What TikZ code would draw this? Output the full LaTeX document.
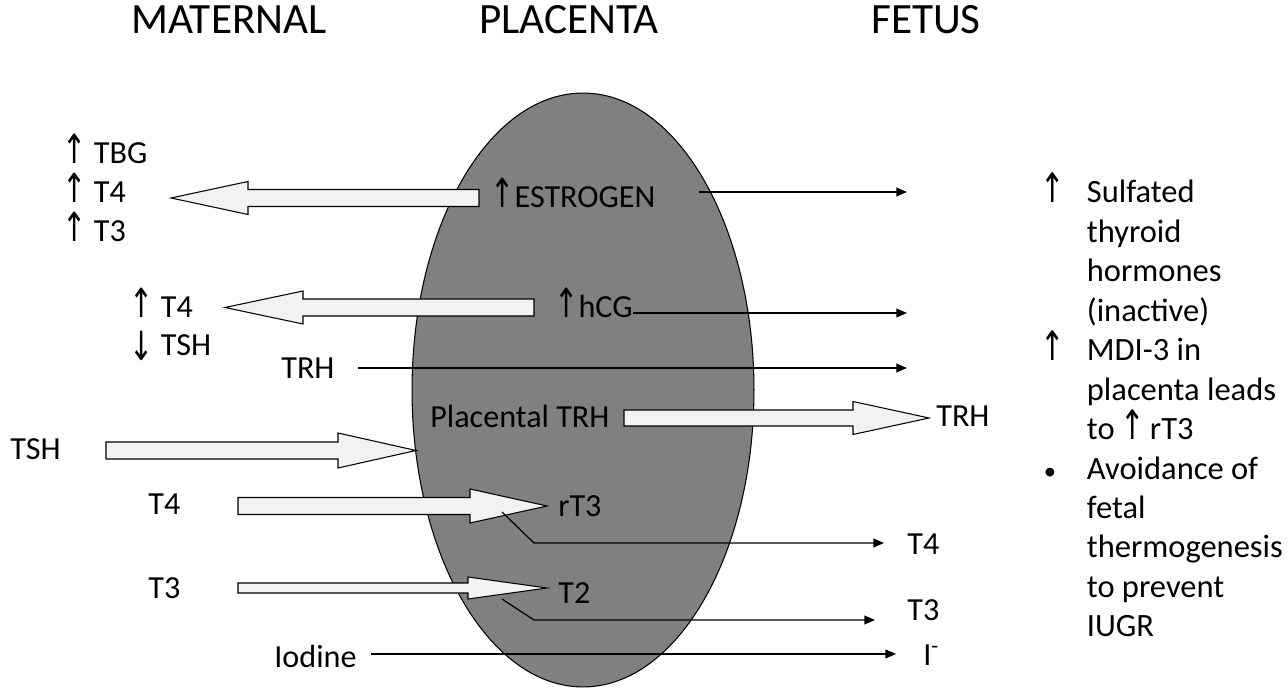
\documentclass[tikz,border=0pt]{standalone}
\usepackage{fontspec}
\usepackage{graphicx}
\setmainfont{Carlito}
\newfontfamily\arrfont{DejaVu Sans}
\usetikzlibrary{arrows.meta,shapes.geometric}
\newcommand\up{\smash{\scalebox{0.9}[1.25]{\arrfont ↑}}}
\newcommand\down{\smash{\raisebox{-0.3ex}{\scalebox{0.9}[1.25]{\arrfont ↓}}}}
% block arrow: tail x, tip x, y, shaft half, head half, head base x
\newcommand\blockarrow[6]{\draw[fat] (#1,#3-#4) -- (#6,#3-#4) -- (#6,#3-#5) -- (#2,#3)
  -- (#6,#3+#5) -- (#6,#3+#4) -- (#1,#3+#4) -- cycle;}
\begin{document}
\begin{tikzpicture}[x=0.02cm, y=-0.02cm,
    head/.style={font=\fontsize{24.6}{28}\selectfont, inner sep=0, anchor=base},
    lbl/.style={font=\fontsize{18.3}{22}\selectfont, inner sep=0, anchor=base west},
    fat/.style={draw=black, line width=0.6pt, fill=black!5},
    thinarr/.style={-{Triangle[length=6pt,width=5pt]}, line width=0.7pt}]
    \useasboundingbox (0,0) rectangle (1288,695);
    % headers
    \node[head] (mat) at (229,34) {MATERNAL};
    \node[head] (pla) at (569,34) {PLACENTA};
    \node[head] (fet) at (926,34) {FETUS};
    % placenta
    \node[ellipse, draw, line width=0.6pt, fill=black!50, inner sep=0,
          minimum width=6.84cm, minimum height=11.88cm] (placenta) at (583,390) {};
    % block arrows
    \blockarrow{479}{171}{198}{8.5}{16.5}{248}
    \blockarrow{534}{225}{307.5}{8.5}{16.5}{303}
    \blockarrow{624}{929}{418}{8}{16.5}{853}
    \blockarrow{106}{416}{450.5}{8.5}{17.5}{338}
    \blockarrow{238}{547}{506}{8.5}{17}{470}
    \blockarrow{238}{547}{588}{5}{11}{468}
    % maternal side
    \node[lbl] (tbg) at (62,164) {\up\ TBG};
    \node[lbl] (mt4a) at (62,203) {\up\ T4};
    \node[lbl] (mt3a) at (62,242) {\up\ T3};
    \node[lbl] (mt4b) at (129,318) {\up\ T4};
    \node[lbl] (mtsh) at (129,356) {\down\ TSH};
    \node[lbl] (trhl) at (281,379) {TRH};
    \node[lbl] (tshl) at (10,460) {TSH};
    \node[lbl] (t4l) at (148,515) {T4};
    \node[lbl] (t3l) at (148,599) {T3};
    \node[lbl] (iod) at (274,667) {Iodine};
    % placenta labels
    \node[lbl] (est) at (490,208) {\up ESTROGEN};
    \node[lbl] (hcg) at (554,318) {\up hCG};
    \node[lbl] (ptrh) at (430,428) {Placental TRH};
    \node[lbl] (rt3) at (558,517) {rT3};
    \node[lbl] (t2) at (558,603) {T2};
    % fetal side
    \node[lbl] (trhr) at (936,427) {TRH};
    \node[lbl] (t4r) at (907,555) {T4};
    \node[lbl] (t3r) at (907,620) {T3};
    \node[lbl] (ion) at (923,665) {I\textsuperscript{-}};
    \node[lbl, font=\fontsize{18.5}{22.45}\selectfont] (notes) at (1040,203) {%
      \begin{tabular}[t]{@{}p{26.5pt}@{}l@{}}
      \up & Sulfated\\ & thyroid\\ & hormones\\ & (inactive)\\
      \up & MDI-3 in\\ & placenta leads\\ & to\,\up\,rT3\\
      \hspace{2pt}{\fontsize{14}{14}\selectfont\textbullet} & Avoidance of\\ & fetal\\ & thermogenesis\\ & to prevent\\ & IUGR
      \end{tabular}};
    % thin arrows
    \coordinate (ests) at (699,192);   \coordinate (este) at (907,192);
    \coordinate (hcge) at (907,313);
    \coordinate (trhs) at (358,368);   \coordinate (trhe) at (907,368);
    \coordinate (rt3s) at (502,512);   \coordinate (rt3k) at (534,543);
    \coordinate (t2s) at (502,599);    \coordinate (t2k) at (534,620);
    \coordinate (iods) at (371,654);   \coordinate (iode) at (896,654);
    \draw[thinarr] (ests) -- (este);
    \draw[thinarr] (hcge -| hcg.east) -- (hcge);
    \draw[thinarr] (trhs) -- (trhe);
    \draw[thinarr] (rt3s) -- (rt3k) -- ([xshift=-0.46cm]rt3k -| t4r.west);
    \draw[thinarr] (t2s) -- (t2k) -- ([xshift=-0.64cm]t2k -| t3r.west);
    \draw[thinarr] (iods) -- (iode);
\end{tikzpicture}
\end{document}
